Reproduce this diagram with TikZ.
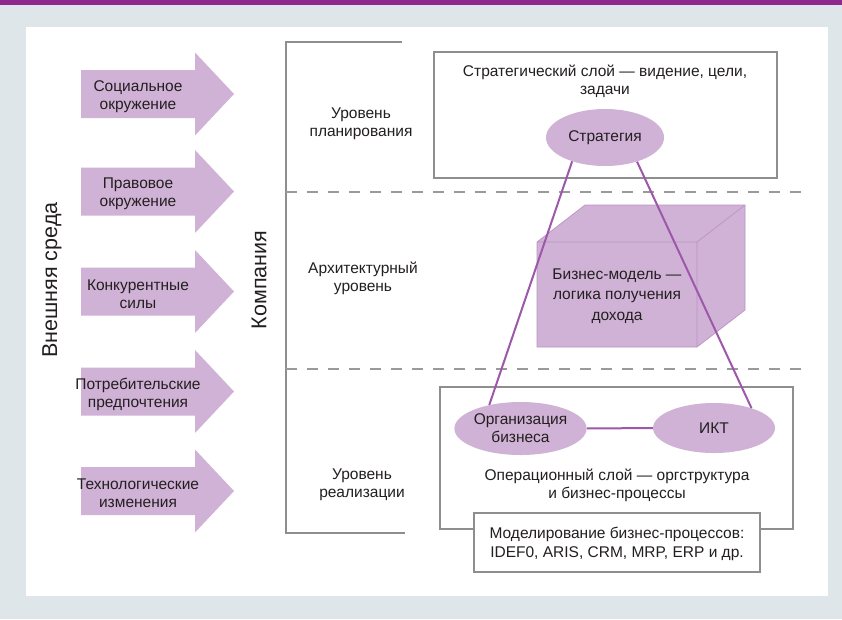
\documentclass[tikz,border=0pt]{standalone}
\usepackage{fontspec}
\setmainfont{Liberation Sans}
\usetikzlibrary{shapes.geometric}

\definecolor{lilac}{HTML}{D0B2D6}
\definecolor{plum}{HTML}{8E288F}
\definecolor{linkc}{HTML}{9D58A9}
\definecolor{frame}{HTML}{8E8E90}
\definecolor{dashc}{HTML}{9A9A9C}
\definecolor{panel}{HTML}{DFE6EA}
\definecolor{ink}{HTML}{231F20}
\definecolor{cubeedge}{HTML}{BA94C3}

\begin{document}
\begin{tikzpicture}[
    x=1pt, y=-1pt,
    txt/.style={align=center,inner sep=0pt,text=ink,font=\fontsize{15.5}{18}\selectfont},
    big/.style={inner sep=0pt,text=ink,font=\fontsize{21.5}{24}\selectfont,rotate=90},
    lyr/.style={draw=frame,line width=2pt,inner sep=0pt},
    oval/.style={ellipse,fill=lilac,inner sep=0pt,inner xsep=-4pt,txt},
    link/.style={draw=linkc,line width=2pt},
    sep/.style={draw=dashc,line width=2.5pt,dash pattern=on 11pt off 10pt},
    pad/.style={fill=lilac}
]

% page: frame and white panel
\useasboundingbox (0,0) rectangle (842,619);
\fill[panel] (0,0) rectangle (842,619);
\fill[plum] (0,0) rectangle (842,5);
\fill[white] (26,27) rectangle (828,596);

% outside world
\node[big] (env) at (52,280) {Внешняя среда};
\foreach \yc/\t [count=\i] in {94/{Социальное\\окружение},
                               191.5/{Правовое\\окружение},
                               291.5/{Конкурентные\\силы},
                               391.5/{Потребительские\\предпочтения},
                               491/{Технологические\\изменения}}{
  \fill[pad] (81,\yc-24) -- (195,\yc-24) -- (195,\yc-41.5) -- (234,\yc)
        -- (195,\yc+41.5) -- (195,\yc+24) -- (81,\yc+24) -- cycle;
  \node[txt] (env\i) at (138,\yc+2.5) {\t};
}

% company bracket and levels
\node[big] (comp) at (259,280) {Компания};
\draw[frame,line width=2pt] (402,42) -- (286,42) -- (286,533) -- (405,533);
\draw[sep] (286,192) -- (807,192);
\draw[sep] (286,369) -- (807,369);

\node[txt] (lvplan) at (361,123.5) {Уровень\\планирования};
\node[txt] (lvarch) at (363,278) {Архитектурный\\уровень};
\node[txt] (lvreal) at (362,485) {Уровень\\реализации};

% strategic layer
\node[lyr,minimum width=343pt,minimum height=126pt] (stratbox) at (605.5,115) {};
\node[txt] (strattxt) at (605,81.5) {Стратегический слой — видение, цели,\\задачи};

% business model cube
\filldraw[fill=lilac,draw=cubeedge,line width=0.7pt]
      (537,242) -- (585,205) -- (745,205) -- (745,310) -- (697,347) -- (537,347) -- cycle;
\draw[cubeedge,line width=0.7pt] (537,242) -- (697,242) -- (745,205) (697,242) -- (697,347);
\node[txt,font=\fontsize{15.5}{20.5}\selectfont] (bm) at (617,296) {Бизнес-модель —\\логика получения\\дохода};

% operational layer
\node[lyr,minimum width=353pt,minimum height=142pt] (opbox) at (616.5,458) {};
\node[txt] (optxt) at (617,485) {Операционный слой — оргструктура\\и бизнес-процессы};
\node[lyr,fill=white,minimum width=286pt,minimum height=59pt] (modbox) at (617,542.5) {};
\node[txt,font=\fontsize{15.5}{19}\selectfont] (modtxt) at (617,543.5)
      {Моделирование бизнес-процессов:\\IDEF0, ARIS, CRM, MRP, ERP и др.};

% ovals
\node[oval,minimum width=118pt,minimum height=57pt] (strat) at (605,137.5) {Стратегия};
\node[oval,minimum width=123pt,minimum height=53pt] (org) at (520.5,428.5) {Организация\\бизнеса};
\node[oval,minimum width=122pt,minimum height=50pt] (ikt) at (714,428) {ИКТ};

% links
\draw[link] (strat.216) -- (org.143);
\draw[link] (strat.323) -- (ikt.28);
\draw[link] (org) -- (ikt);

\end{tikzpicture}
\end{document}
